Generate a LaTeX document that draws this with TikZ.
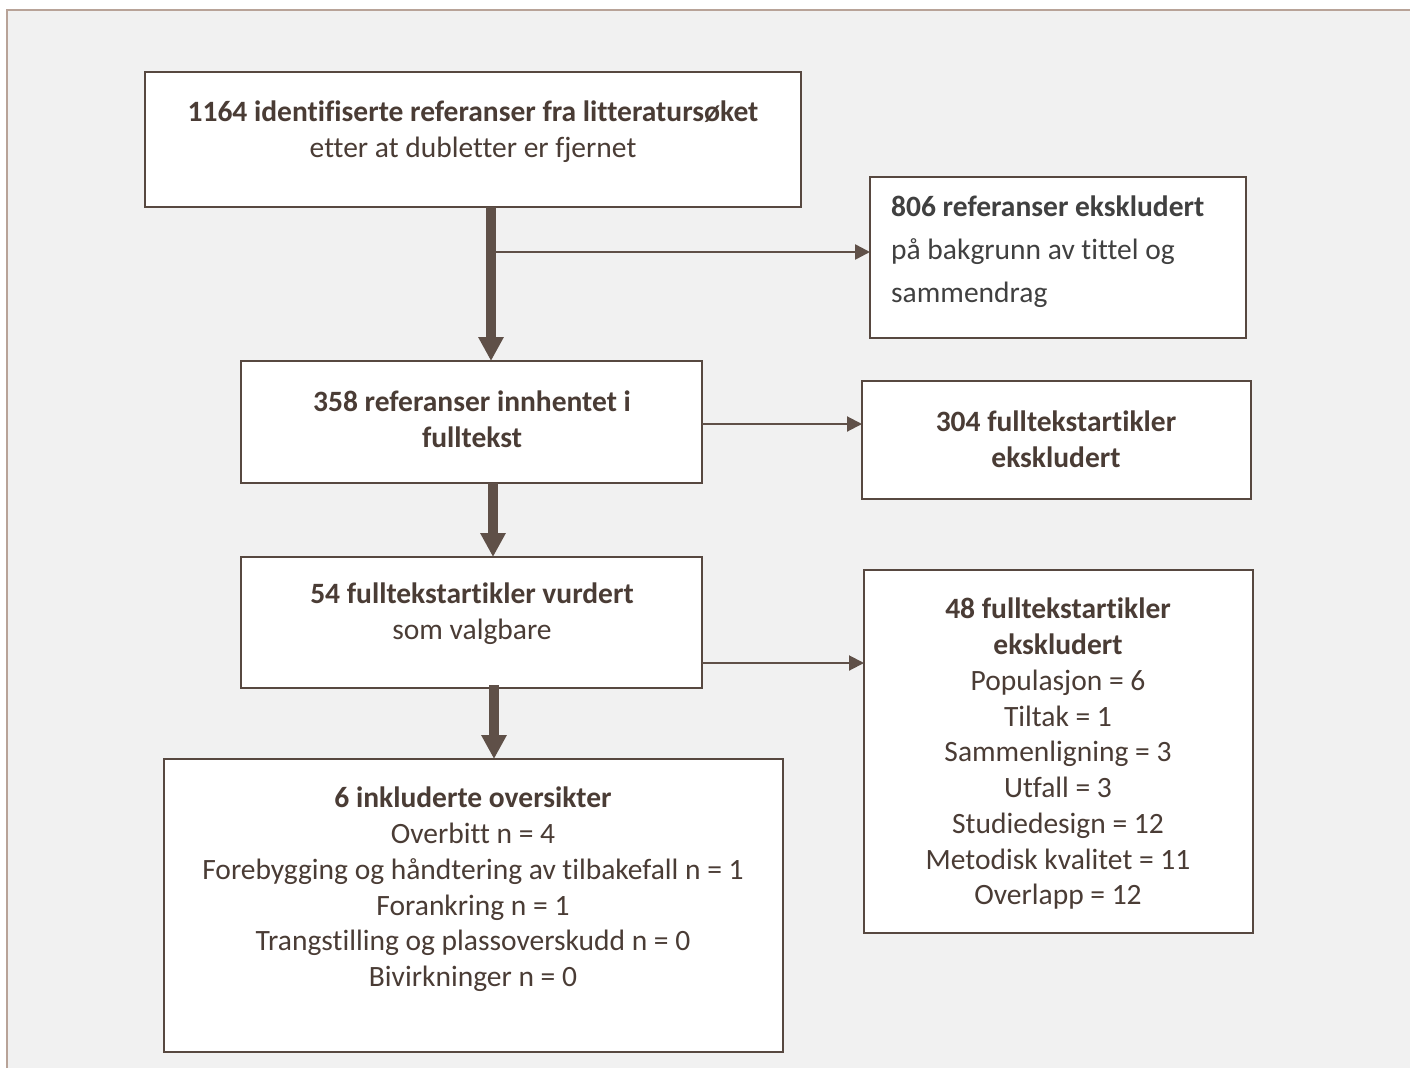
\documentclass[tikz,border=0pt]{standalone}
\usepackage{fontspec}
\setmainfont{Carlito}[Ligatures=NoCommon]
\usetikzlibrary{arrows.meta}
\definecolor{framec}{HTML}{B8A398}
\definecolor{bgc}{HTML}{F1F1F1}
\definecolor{boxc}{HTML}{574840}
\definecolor{arrc}{HTML}{5F5048}
\definecolor{txtc}{HTML}{4A3C35}
\definecolor{greytxt}{HTML}{404040}
\tikzset{
  box/.style={draw=boxc, line width=2pt, fill=white, inner sep=0pt, outer sep=0pt},
  lbl/.style={text=txtc, align=center, inner sep=0pt, font=\fontsize{29.5}{35.75}\selectfont},
  lblleft/.style={text=greytxt, align=left, inner sep=0pt, font=\fontsize{29.5}{43}\selectfont},
  bigarrow/.style={draw=arrc, line width=10pt, -{Triangle[width=24pt,length=24pt]}},
  smallarrow/.style={draw=arrc, line width=2.5pt, -{Triangle[width=15pt,length=15pt]}},
}
\begin{document}
\begin{tikzpicture}[x=1pt,y=-1pt]
\useasboundingbox (0,0) rectangle (1410,1068);
\fill[white] (0,0) rectangle (1410,1068);
\fill[bgc] (7,10) rectangle (1410,1068);
\draw[framec, line width=2.5pt] (7,1068) -- (7,10) -- (1410,10);

% boxes
\node[box, minimum width=656pt, minimum height=135pt] (b1) at (473,139.5) {};
\node[box, minimum width=376pt, minimum height=161pt] (b2) at (1058,257.5) {};
\node[box, minimum width=461pt, minimum height=122pt] (b3) at (471.5,422) {};
\node[box, minimum width=389pt, minimum height=118pt] (b4) at (1056.5,440) {};
\node[box, minimum width=461pt, minimum height=131pt] (b5) at (471.5,622.5) {};
\node[box, minimum width=389pt, minimum height=363pt] (b6) at (1058.5,751.5) {};
\node[box, minimum width=619pt, minimum height=293pt] (b7) at (473.5,905.5) {};

% texts
\node[lbl] (t1) at (473,131.5) {\textbf{1164 identifiserte referanser fra litteratursøket}\\etter at dubletter er fjernet};
\node[lblleft, anchor=west] (t2) at (891,252) {\textbf{806 referanser ekskludert}\\på bakgrunn av tittel og\\sammendrag};
\node[lbl] (t3) at (472,419) {\textbf{358 referanser innhentet i}\\\textbf{fulltekst}};
\node[lbl] (t4) at (1056,439) {\textbf{304 fulltekstartikler}\\\textbf{ekskludert}};
\node[lbl] (t5) at (472,614) {\textbf{54 fulltekstartikler vurdert}\\som valgbare};
\node[lbl] (t6) at (1058,754) {\textbf{48 fulltekstartikler}\\\textbf{ekskludert}\\Populasjon = 6\\Tiltak = 1\\Sammenligning = 3\\Utfall = 3\\Studiedesign = 12\\Metodisk kvalitet = 11\\Overlapp = 12};
\node[lbl] (t7) at (473,889.5) {\textbf{6 inkluderte oversikter}\\Overbitt n = 4\\Forebygging og håndtering av tilbakefall n = 1\\Forankring n = 1\\Trangstilling og plassoverskudd n = 0\\Bivirkninger n = 0};

% connectors
\coordinate (c1) at (491,252);
\coordinate (c2) at (493,0);
\coordinate (c3) at (494,685);
\coordinate (c4) at (702,663);
\coordinate (c5) at (702,424);
\draw[bigarrow] (b1.south -| c1) -- (b3.north -| c1);
\draw[smallarrow] (c1) -- (c1 -| b2.west);
\draw[smallarrow, line width=2pt] (c5 -| b3.east) -- (c5 -| b4.west);
\draw[bigarrow] (b3.south -| c2) -- (b5.north -| c2);
\draw[smallarrow, line width=2pt] (c4 -| b5.east) -- (c4 -| b6.west);
\draw[bigarrow] (c3) -- (b7.north -| c3);
\end{tikzpicture}
\end{document}
